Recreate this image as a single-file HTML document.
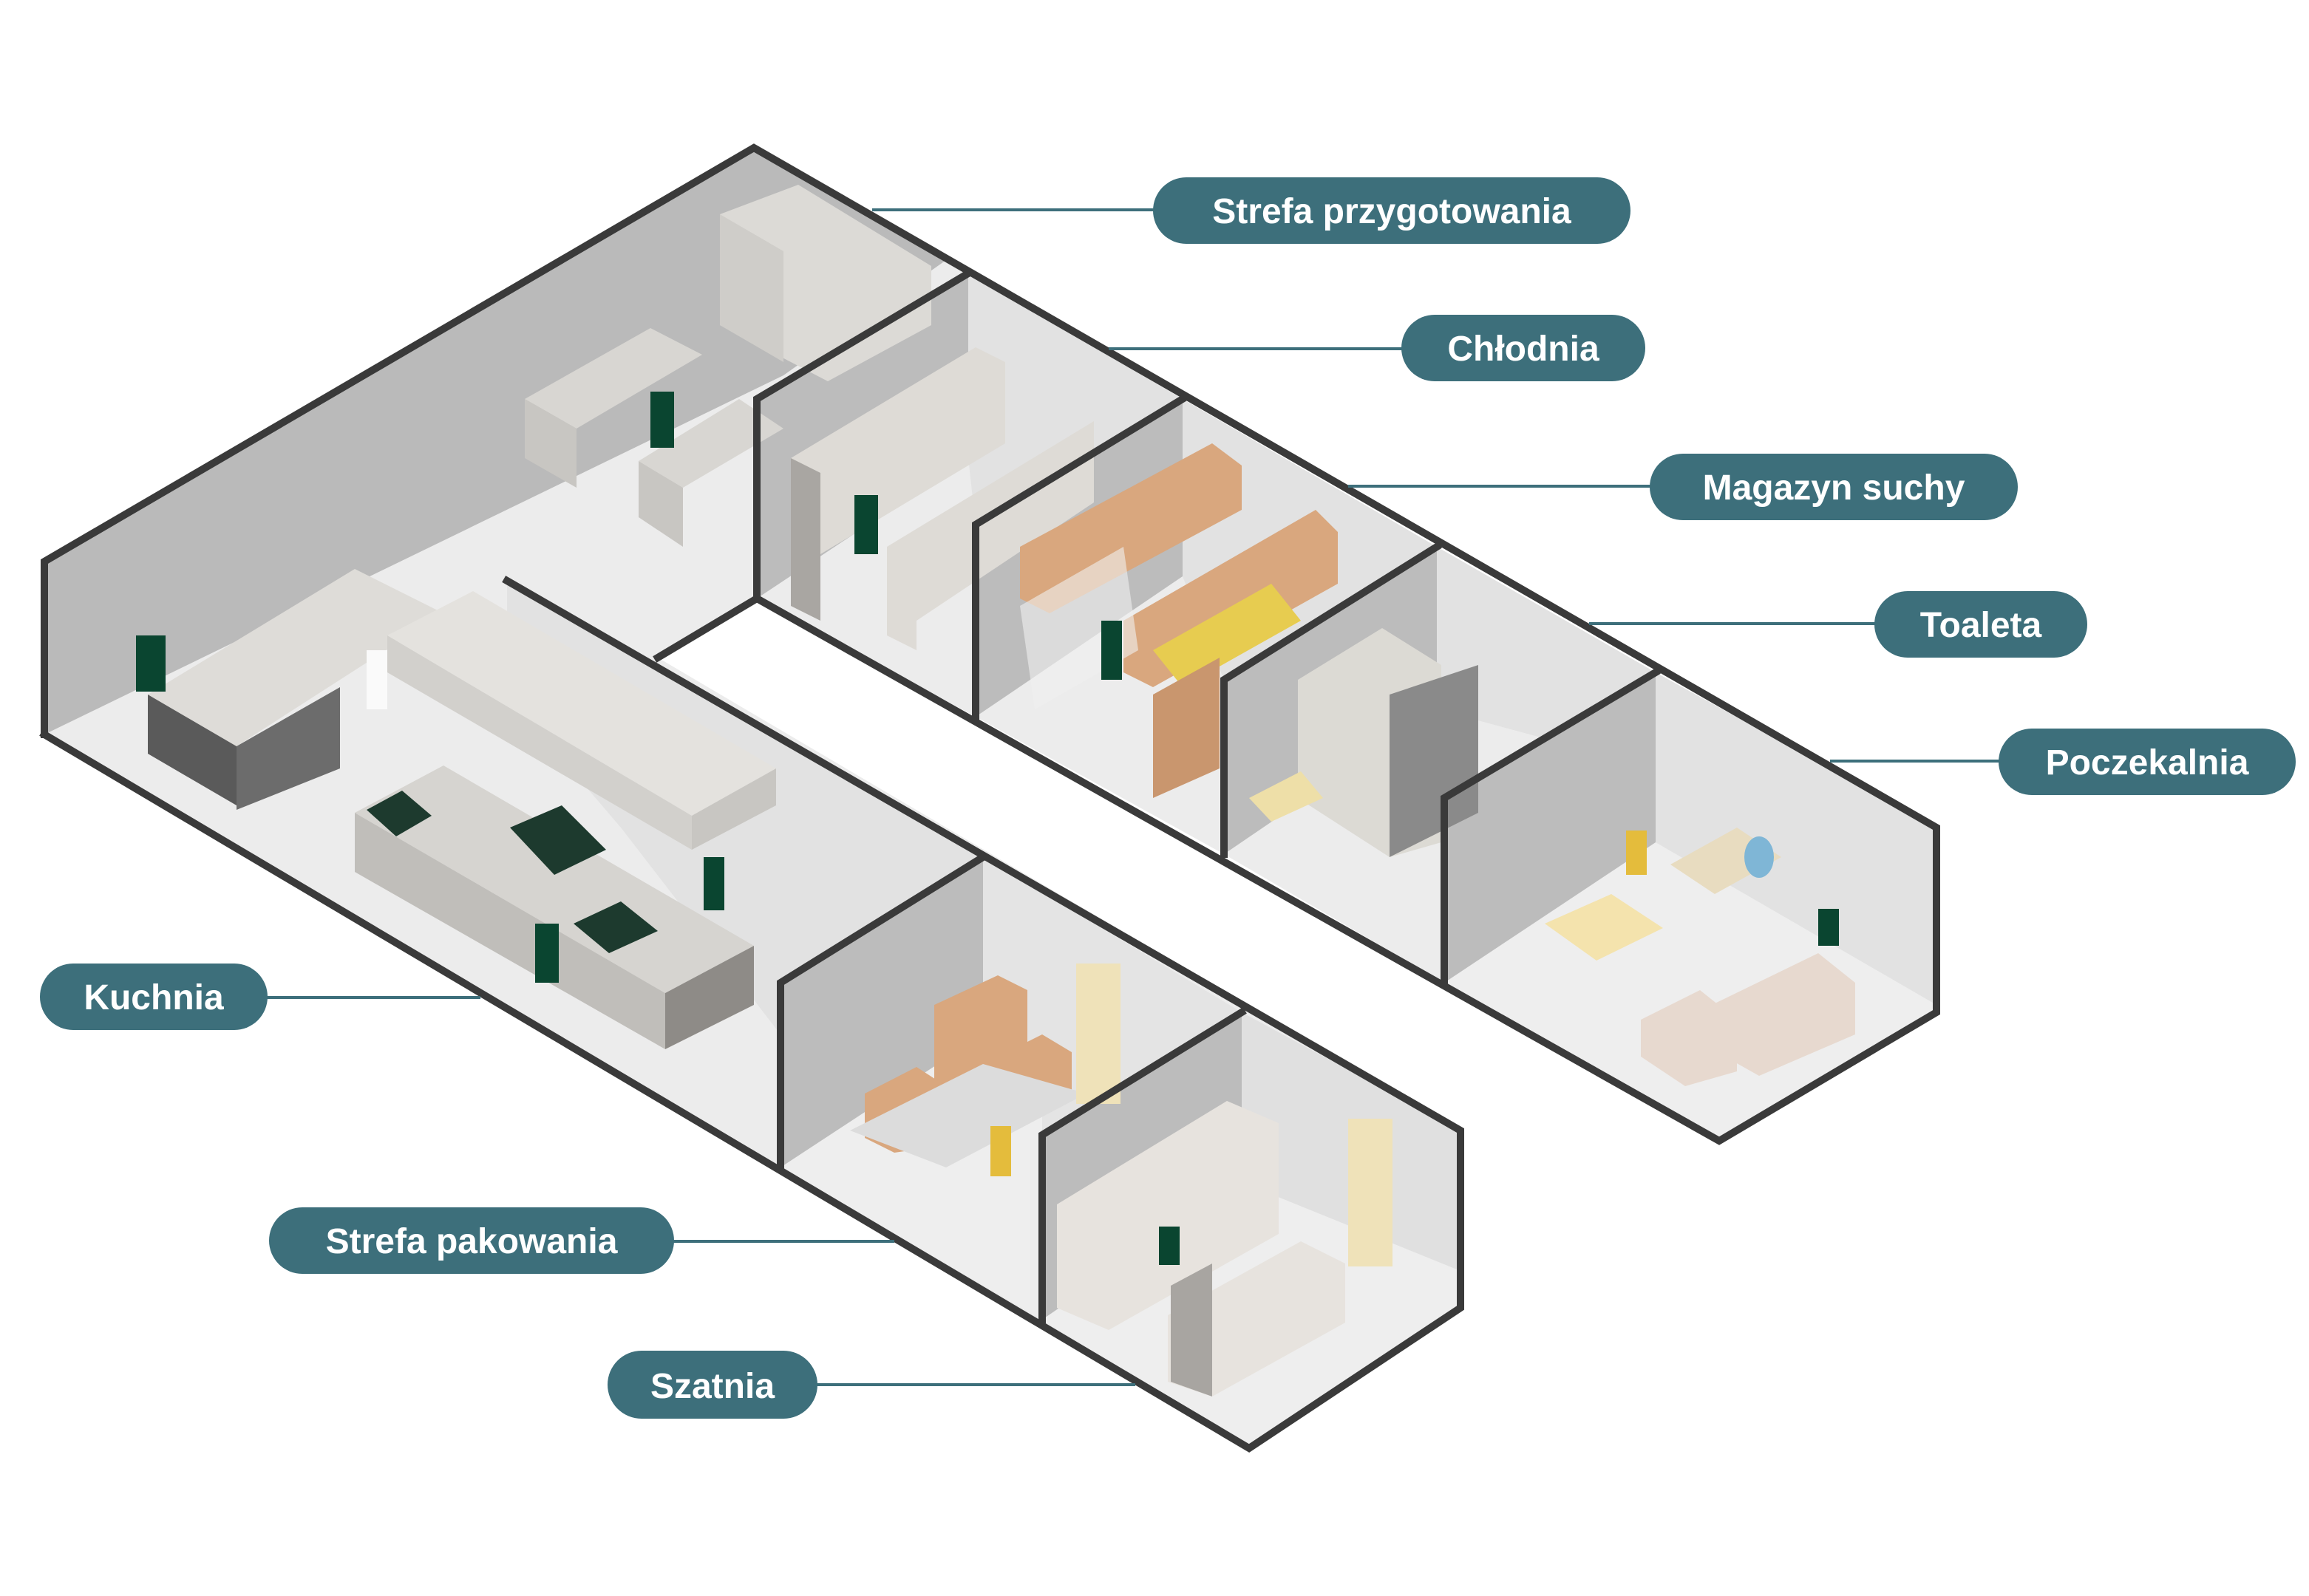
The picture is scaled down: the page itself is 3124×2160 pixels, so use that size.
<!DOCTYPE html>
<html><head><meta charset="utf-8"><style>
html,body{margin:0;padding:0;background:#fff;}
svg{display:block;}
text{font-family:"Liberation Sans",sans-serif;font-weight:bold;fill:#fff;}
</style></head><body>
<svg width="3124" height="2160" viewBox="0 0 1562 1080" xmlns="http://www.w3.org/2000/svg">
<!-- KITCHEN / lower wing floor -->
<polygon points="30,380 510,100 655,185 512,270 512,405 445,445 988,765 988,885 845,980 30,497" fill="#ececec"/>
<!-- kitchen back wall -->
<polygon points="30,380 510,100 640,176 530,254 30,497" fill="#bababa"/>
<!-- lower wing back wall shading -->
<polygon points="343,393 665,580 528,665 528,700 420,560 343,470" fill="#e2e2e2"/>
<!-- packing room -->
<polygon points="528,665 665,580 840,685 705,768 705,893 528,790" fill="#e4e4e4"/>
<polygon points="528,665 665,580 665,700 528,790" fill="#bcbcbc"/>
<polygon points="528,790 665,700 705,725 705,893" fill="#eeeeee"/>
<!-- szatnia -->
<polygon points="705,768 840,685 988,765 988,885 845,980 705,893" fill="#eeeeee"/>
<polygon points="705,768 840,685 840,800 705,893" fill="#bcbcbc"/>
<polygon points="840,685 988,765 988,860 840,800" fill="#e0e0e0"/>
<rect x="0" y="0" width="0" height="0"/>
<!-- right wing rooms -->
<!-- chlodnia -->
<polygon points="512,270 655,185 800,270 660,355 660,485 512,405" fill="#ececec"/>
<polygon points="512,270 655,185 655,310 512,405" fill="#bcbcbc"/>
<polygon points="655,185 800,270 660,355 655,310" fill="#e2e2e2"/>
<!-- magazyn -->
<polygon points="660,355 800,270 972,370 828,460 828,578 660,485" fill="#ececec"/>
<polygon points="660,355 800,270 800,390 660,485" fill="#bcbcbc"/>
<polygon points="800,270 972,370 828,460 800,390" fill="#e2e2e2"/>
<!-- toaleta -->
<polygon points="828,460 972,370 1120,455 977,540 977,665 828,578" fill="#ececec"/>
<polygon points="828,460 972,370 972,480 828,578" fill="#bcbcbc"/>
<polygon points="972,370 1120,455 1120,520 972,480" fill="#e2e2e2"/>
<!-- poczekalnia -->
<polygon points="977,540 1120,455 1310,560 1310,685 1163,772 977,665" fill="#eeeeee"/>
<polygon points="977,540 1120,455 1120,570 977,665" fill="#bcbcbc"/>
<polygon points="1120,455 1310,560 1310,680 1120,570" fill="#e2e2e2"/>

<!-- furniture approximations -->
<!-- fridges in prep -->
<polygon points="487,145 540,125 630,180 630,220 560,258 487,220" fill="#dcdad6"/>
<polygon points="487,145 487,220 530,245 530,170" fill="#cfcdc9"/>
<!-- sinks / tables -->
<polygon points="355,270 440,222 475,240 390,290" fill="#d8d6d2"/>
<polygon points="355,270 390,290 390,330 355,310" fill="#c8c6c2"/>
<polygon points="432,312 500,270 530,290 462,330" fill="#d8d6d2"/>
<polygon points="432,312 462,330 462,370 432,350" fill="#c8c6c2"/>
<!-- cold cabinets -->
<polygon points="535,310 660,235 680,245 680,300 555,375 555,420 535,410" fill="#dedbd6"/>
<polygon points="600,370 740,285 740,340 620,420 620,440 600,430" fill="#dedbd6"/>
<polygon points="535,310 555,320 555,420 535,410" fill="#a9a6a2"/>
<!-- kitchen island -->
<polygon points="100,470 240,385 300,415 160,505" fill="#dedcd8"/>
<polygon points="100,470 160,505 160,545 100,510" fill="#5a5a5a"/>
<polygon points="160,505 230,465 230,520 160,548" fill="#6c6c6c"/>
<!-- hood -->
<polygon points="262,430 320,400 525,520 468,552" fill="#e4e2de"/>
<polygon points="262,430 468,552 468,575 262,455" fill="#d2d0cc"/>
<polygon points="468,552 525,520 525,545 468,575" fill="#c8c6c2"/>
<!-- cooking line -->
<polygon points="240,550 300,518 510,640 450,672" fill="#d6d4d0"/>
<polygon points="240,550 450,672 450,710 240,590" fill="#c0beba"/>
<polygon points="450,672 510,640 510,680 450,710" fill="#8e8b87"/>
<polygon points="345,560 380,545 410,575 375,592" fill="#1d3a2e"/>
<polygon points="388,625 420,610 445,630 412,645" fill="#1d3a2e"/>
<polygon points="248,548 272,535 292,552 268,566" fill="#1d3a2e"/>
<!-- boxes magazyn -->
<polygon points="690,370 820,300 840,315 840,345 710,415 690,405" fill="#d9a77e"/>
<polygon points="760,420 890,345 905,360 905,395 780,465 760,455" fill="#d9a77e"/>
<polygon points="780,440 860,395 880,420 800,465" fill="#e7cc50"/>
<polygon points="690,410 760,370 770,440 700,480" fill="#f0f0f0" opacity="0.6"/>
<polygon points="780,470 825,445 825,520 780,540" fill="#c9966e"/>
<!-- toilet -->
<polygon points="878,460 935,425 975,450 975,570 940,580 878,540" fill="#dcdad4"/>
<polygon points="940,470 1000,450 1000,550 940,580" fill="#8a8a8a"/>
<polygon points="845,540 880,522 895,540 860,556" fill="#eedfa8"/>
<!-- waiting room -->
<polygon points="1045,625 1090,605 1125,628 1080,650" fill="#f4e3ad"/>
<polygon points="1130,585 1175,560 1205,580 1160,605" fill="#e8dcc0"/>
<polygon points="1110,690 1150,670 1175,690 1175,725 1140,735 1110,715" fill="#e7d9cf"/>
<polygon points="1158,680 1230,645 1255,665 1255,700 1190,728 1158,710" fill="#e7d9cf"/>
<ellipse cx="1190" cy="580" rx="10" ry="14" fill="#7fb6d6"/>
<!-- packing -->
<polygon points="632,680 675,660 695,670 695,730 650,755 632,745" fill="#d9a77e"/>
<polygon points="585,740 620,722 640,735 640,775 605,780 585,770" fill="#d9a77e"/>
<polygon points="665,720 705,700 725,712 725,745 685,765 665,752" fill="#d9a77e"/>
<polygon points="575,765 665,720 735,740 640,790" fill="#dcdcdc"/>
<rect x="728" y="652" width="30" height="95" fill="#efe2b9"/>
<!-- lockers -->
<polygon points="715,815 830,745 865,760 865,835 750,900 715,885" fill="#e7e3de"/>
<polygon points="790,890 880,840 910,855 910,895 820,945 790,935" fill="#e7e3de"/>
<polygon points="792,870 820,855 820,945 792,935" fill="#a8a5a1"/>
<rect x="912" y="757" width="30" height="100" fill="#efe2b9"/>
<!-- people (rough) -->
<g fill="#0a4530">
<rect x="92" y="430" width="20" height="38"/><rect x="362" y="625" width="16" height="40"/><rect x="440" y="265" width="16" height="38"/>
<rect x="578" y="335" width="16" height="40"/><rect x="476" y="580" width="14" height="36"/><rect x="784" y="830" width="14" height="26"/>
<rect x="1230" y="615" width="14" height="25"/><rect x="745" y="420" width="14" height="40"/>
</g>
<g fill="#e4bc3c"><rect x="1100" y="562" width="14" height="30"/><rect x="670" y="762" width="14" height="34"/></g>
<g fill="#fafafa"><rect x="248" y="440" width="14" height="40"/></g>

<!-- OUTLINES -->
<g fill="none" stroke="#3a3a3a" stroke-width="5" stroke-linejoin="miter" stroke-linecap="square">
<polyline points="30,497 30,380 510,100 1310,560 1310,685 1163,772 512,405 512,270 655,185"/>
<polyline points="660,485 660,355 800,270"/>
<polyline points="828,578 828,460 972,370"/>
<polyline points="977,665 977,540 1120,455"/>
<polyline points="445,445 512,405"/>
<polyline points="30,497 845,980 988,885 988,765 343,393"/>
<polyline points="528,790 528,665 665,580"/>
<polyline points="705,893 705,768 840,685"/>
</g>

<!-- connector lines -->
<g stroke="#3d6f7b" stroke-width="2">
<line x1="590" y1="142" x2="790" y2="142"/>
<line x1="750" y1="236" x2="955" y2="236"/>
<line x1="912" y1="329" x2="1125" y2="329"/>
<line x1="1075" y1="422" x2="1275" y2="422"/>
<line x1="1238" y1="515" x2="1360" y2="515"/>
<line x1="175" y1="675" x2="325" y2="675"/>
<line x1="450" y1="840" x2="605" y2="840"/>
<line x1="548" y1="937" x2="768" y2="937"/>
</g>
<!-- pills -->
<g fill="#3d6f7b">
<rect x="780" y="120" width="323" height="45" rx="22.5"/>
<rect x="948" y="213" width="165" height="45" rx="22.5"/>
<rect x="1116" y="307" width="249" height="45" rx="22.5"/>
<rect x="1268" y="400" width="144" height="45" rx="22.5"/>
<rect x="1352" y="493" width="201" height="45" rx="22.5"/>
<rect x="27" y="652" width="154" height="45" rx="22.5"/>
<rect x="182" y="817" width="274" height="45" rx="22.5"/>
<rect x="411" y="914" width="142" height="46" rx="23"/>
</g>
<g font-size="24" text-anchor="middle">
<text x="941.5" y="151">Strefa przygotowania</text>
<text x="1030.5" y="244">Chłodnia</text>
<text x="1240.5" y="338">Magazyn suchy</text>
<text x="1340" y="431">Toaleta</text>
<text x="1452.5" y="524">Poczekalnia</text>
<text x="104" y="683">Kuchnia</text>
<text x="319" y="848">Strefa pakowania</text>
<text x="482" y="946">Szatnia</text>
</g>
</svg>
</body></html>
